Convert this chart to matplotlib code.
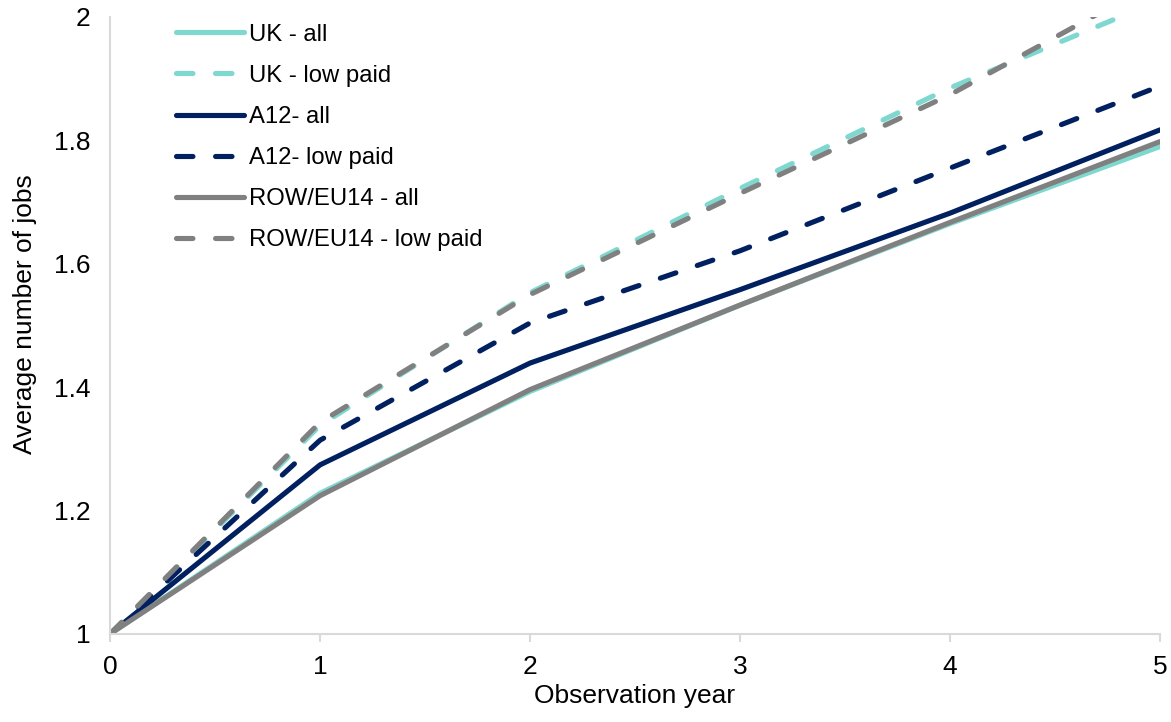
import matplotlib
matplotlib.use("Agg")
import matplotlib.pyplot as plt

plt.rcParams['font.family'] = ['Liberation Sans', 'DejaVu Sans']

years = [0, 1, 2, 3, 4, 5]

uk_all = [1.0, 1.228, 1.393, 1.533, 1.665, 1.790]
uk_low = [1.0, 1.338, 1.553, 1.722, 1.885, 2.027]
a12_all = [1.0, 1.274, 1.439, 1.558, 1.682, 1.817]
a12_low = [1.0, 1.314, 1.504, 1.621, 1.755, 1.888]
row_all = [1.0, 1.224, 1.396, 1.533, 1.667, 1.798]
row_low = [1.0, 1.343, 1.550, 1.714, 1.874, 2.060]

labels = ['UK - all', 'UK - low paid', 'A12- all', 'A12- low paid',
          'ROW/EU14 - all', 'ROW/EU14 - low paid']

cyan = '#7fd8d0'
navy = '#002060'
grey = '#808080'

series = [
    (uk_all, cyan, '-'),
    (uk_low, cyan, '--'),
    (a12_all, navy, '-'),
    (a12_low, navy, '--'),
    (row_all, grey, '-'),
    (row_low, grey, '--'),
]

fig = plt.figure(figsize=(11.71, 7.22), dpi=100)
ax = fig.add_axes([0.094, 0.122, 0.8966, 0.8545])

lw = 3.7
fs = 19
for (vals, col, ls), lab in zip(series, labels):
    line, = ax.plot(years, vals, color=col, linewidth=lw, label=lab,
                    solid_capstyle='round', dash_capstyle='round')
    if ls == '--':
        line.set_dashes((3.2, 4.4))

ax.set_xlim(0, 5)
ax.set_ylim(1, 2)
ax.set_xticks(years)
ax.set_yticks([1, 1.2, 1.4, 1.6, 1.8, 2])
ax.set_yticklabels(['1', '1.2', '1.4', '1.6', '1.8', '2'])

for s in ['top', 'right']:
    ax.spines[s].set_visible(False)
for s in ['left', 'bottom']:
    ax.spines[s].set_color('#d9d9d9')
    ax.spines[s].set_linewidth(1.5)

ax.tick_params(axis='x', direction='out', length=6, width=1.5, color='#d9d9d9',
               labelsize=fs, pad=9)
ax.tick_params(axis='y', length=0, labelsize=fs, pad=14)

ax.set_xlabel('Observation year', fontsize=fs, labelpad=4)
ax.set_ylabel('Average number of jobs', fontsize=fs)
ax.yaxis.set_label_coords(-0.07, 0.519)

ax.legend(loc='upper left', bbox_to_anchor=(0.0425, 1.024), frameon=False,
          fontsize=17.2, handlelength=2.85, handletextpad=0.2, labelspacing=0.8)

fig.savefig('out.png', dpi=100)
